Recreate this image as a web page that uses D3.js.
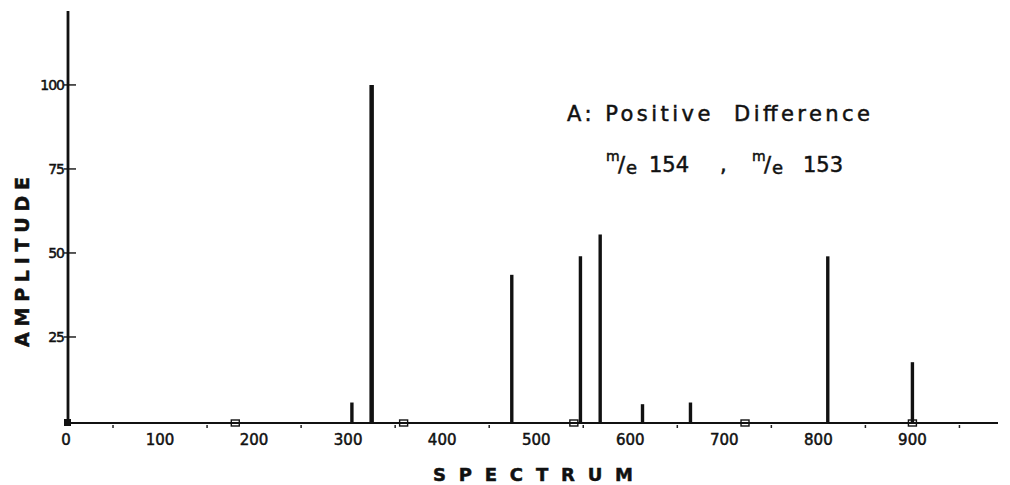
<!DOCTYPE html>
<html>
<head>
<meta charset="utf-8">
<script src="https://cdn.jsdelivr.net/npm/d3@7"></script>
<style>
  body { margin: 0; background: #fff; }
  text { font-family: 'DejaVu Sans', sans-serif; fill: #111; stroke: #111; stroke-width: 0.5px; }
</style>
</head>
<body>
<script>
// peak positions on the spectrum axis and their amplitudes
var peakPos = [304, 325, 474, 547, 568, 613, 664, 810, 900];
var peakAmp = [5.5, 100, 43.5, 49, 55.5, 5, 5.5, 49, 17.5];
// small open squares sitting on the baseline
var markerPos = [180, 359, 540, 722, 900];
var xTicks = [0, 100, 200, 300, 400, 500, 600, 700, 800, 900];
var xMinor = [50, 150, 250, 350, 450, 550, 650, 750, 850, 950];
var yTicks = [25, 50, 75, 100];
var yTickLabels = ['25', '50', '75', '100'];

var width = 1010;
var height = 485;

var xScale = d3.scaleLinear().domain([0, 991]).range([66, 998]);
var yScale = d3.scaleLinear().domain([0, 122]).range([421, 11]);

var svg = d3.select('body')
  .append('svg')
  .attr('width', width)
  .attr('height', height);

// baseline (x axis)
var base = yScale(0) + 2;
svg.append('line')
  .attr('x1', xScale(0)).attr('x2', xScale(991))
  .attr('y1', base).attr('y2', base)
  .style('stroke', '#111').style('stroke-width', 2.2);

// minor ticks under the baseline
svg.append('g').selectAll('line')
  .data(xMinor)
  .enter()
  .append('line')
  .attr('x1', (d) => xScale(d)).attr('x2', (d) => xScale(d))
  .attr('y1', base + 2).attr('y2', base + 5)
  .style('stroke', '#222').style('stroke-width', 1.5);

// x tick labels
svg.append('g').selectAll('text')
  .data(xTicks)
  .enter()
  .append('text')
  .attr('x', (d) => xScale(d))
  .attr('y', 445)
  .attr('text-anchor', 'middle')
  .style('font-size', '15px')
  .text((d) => d);

// y axis
var axisX = xScale(0) + 2;
svg.append('line')
  .attr('x1', axisX).attr('x2', axisX)
  .attr('y1', yScale(122)).attr('y2', base + 1)
  .style('stroke', '#111').style('stroke-width', 2.8);

svg.append('g').selectAll('line')
  .data(yTicks)
  .enter()
  .append('line')
  .attr('x1', axisX - 4).attr('x2', axisX + 8)
  .attr('y1', (d) => yScale(d)).attr('y2', (d) => yScale(d))
  .style('stroke', '#111').style('stroke-width', 1.4);

svg.append('g').selectAll('text')
  .data(yTicks)
  .enter()
  .append('text')
  .attr('x', axisX - 4)
  .attr('y', (d) => yScale(d) + 5)
  .attr('text-anchor', 'end')
  .style('font-size', '14px')
  .style('letter-spacing', '-1px')
  .text((d, i) => yTickLabels[i]);

// filled corner marker at the origin
svg.append('rect')
  .attr('x', xScale(0) - 2).attr('y', base - 4)
  .attr('width', 7).attr('height', 7)
  .attr('fill', '#111');

// peaks
svg.append('g').selectAll('line')
  .data(peakPos)
  .enter()
  .append('line')
  .attr('x1', (d) => xScale(d)).attr('x2', (d) => xScale(d))
  .attr('y1', base)
  .attr('y2', (d, i) => yScale(peakAmp[i]))
  .style('stroke', '#111')
  .style('stroke-width', (d, i) => peakAmp[i] > 90 ? 4.5 : 3.4);

// open squares on the baseline
svg.append('g').selectAll('rect')
  .data(markerPos)
  .enter()
  .append('rect')
  .attr('x', (d) => xScale(d) - 4)
  .attr('y', base - 3)
  .attr('width', 8).attr('height', 6)
  .attr('fill', 'none')
  .style('stroke', '#111').style('stroke-width', 1.4);

// axis titles
svg.append('text')
  .attr('transform', 'translate(29,262) rotate(-90)')
  .attr('text-anchor', 'middle')
  .attr('textLength', 170)
  .attr('lengthAdjust', 'spacing')
  .style('font-size', '19px')
  .style('font-weight', 'bold')
  .text('AMPLITUDE');

svg.append('text')
  .attr('x', 533).attr('y', 481)
  .attr('text-anchor', 'middle')
  .attr('textLength', 200)
  .attr('lengthAdjust', 'spacing')
  .style('font-size', '18px')
  .style('font-weight', 'bold')
  .text('SPECTRUM');

// annotation
svg.append('text')
  .attr('x', 567).attr('y', 121)
  .attr('textLength', 303)
  .attr('lengthAdjust', 'spacing')
  .style('font-size', '21px')
  .style('white-space', 'pre')
  .text('A: Positive  Difference');

var line2 = svg.append('text').attr('y', 172).style('font-size', '21px');
line2.append('tspan').attr('x', 606).attr('y', 161).style('font-size', '14px').text('m');
line2.append('tspan').attr('x', 618).attr('y', 172).text('/');
line2.append('tspan').attr('x', 626).attr('y', 174).style('font-size', '18px').text('e');
line2.append('tspan').attr('x', 649).attr('y', 172).text('154');
line2.append('tspan').attr('x', 720).attr('y', 172).text(',');
line2.append('tspan').attr('x', 752).attr('y', 161).style('font-size', '14px').text('m');
line2.append('tspan').attr('x', 764).attr('y', 172).text('/');
line2.append('tspan').attr('x', 772).attr('y', 174).style('font-size', '18px').text('e');
line2.append('tspan').attr('x', 803).attr('y', 172).text('153');
</script>
</body>
</html>
